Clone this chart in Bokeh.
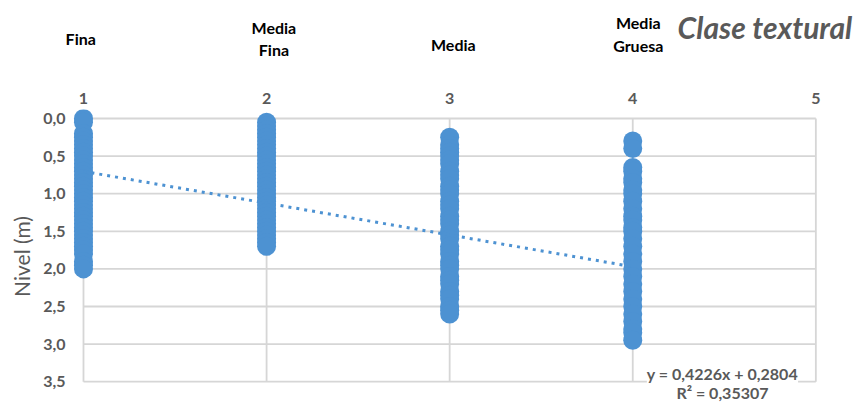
from bokeh.plotting import figure
from bokeh.layouts import column
from bokeh.models import Range1d, FixedTicker, Label
from bokeh.core.properties import value
from bokeh.embed import file_html
from bokeh.resources import INLINE

# Texture classes (x position) and their names
class_pos = [1, 2, 3, 4]
class_names = [["Fina"], ["Media", "Fina"], ["Media"], ["Media", "Gruesa"]]

# Water level (m) observed for each texture class
nivel_fina = [0.0, 0.05, 0.2, 0.25, 0.3, 0.35, 0.4, 0.45, 0.5, 0.55, 0.6, 0.65,
              0.7, 0.75, 0.8, 0.85, 0.9, 0.95, 1.0, 1.05, 1.1, 1.15, 1.2, 1.25,
              1.3, 1.35, 1.4, 1.45, 1.5, 1.55, 1.6, 1.65, 1.7, 1.75, 1.8, 1.9,
              1.95, 2.0]
nivel_media_fina = [0.05, 0.1, 0.15, 0.2, 0.25, 0.3, 0.35, 0.4, 0.45, 0.5, 0.55,
                    0.6, 0.65, 0.7, 0.75, 0.8, 0.85, 0.9, 0.95, 1.0, 1.05, 1.1,
                    1.15, 1.2, 1.25, 1.3, 1.35, 1.4, 1.45, 1.5, 1.55, 1.6, 1.65,
                    1.7]
nivel_media = [0.25, 0.35, 0.4, 0.45, 0.5, 0.55, 0.6, 0.7, 0.75, 0.8, 0.9, 0.95,
               1.0, 1.1, 1.15, 1.2, 1.3, 1.35, 1.4, 1.5, 1.55, 1.6, 1.7, 1.75,
               1.8, 1.9, 1.95, 2.0, 2.1, 2.15, 2.2, 2.3, 2.35, 2.4, 2.5, 2.55,
               2.6]
nivel_media_gruesa = [0.3, 0.4, 0.65, 0.7, 0.8, 0.85, 0.95, 1.0, 1.1, 1.2, 1.3,
                      1.35, 1.45, 1.5, 1.6, 1.7, 1.8, 1.9, 2.0, 2.1, 2.2, 2.3,
                      2.4, 2.5, 2.6, 2.7, 2.8, 2.85, 2.95]

# Linear trend fitted to the observations
slope = 0.4226
intercept = 0.2804
r_squared = 0.35307
trend_x = [1, 4]

x_ticks = [1, 2, 3, 4, 5]
y_ticks = [0.0, 0.5, 1.0, 1.5, 2.0, 2.5, 3.0, 3.5]
y_tick_labels = ["0,0", "0,5", "1,0", "1,5", "2,0", "2,5", "3,0", "3,5"]

BLUE = "#4d92d2"
GRID = "#d6d6d6"
GREY_TEXT = "#595959"
FONT = "Lato"

W = 853
HEADER_H = 85
CHART_H = 318
BORDER_L, BORDER_R = 72, 34
X_START, X_END = 0.94, 5.02

# ---- main chart -------------------------------------------------------------
p = figure(width=W, height=CHART_H, output_backend="svg", toolbar_location=None,
           x_range=Range1d(X_START, X_END), y_range=Range1d(3.79, -0.12),
           x_axis_location="above", min_border_left=BORDER_L,
           min_border_right=BORDER_R, min_border_top=24, min_border_bottom=0)
p.frame_align = False
p.outline_line_color = None
p.xgrid.visible = False
p.ygrid.visible = False

# Gridlines only span the 1..5 / 0..3.5 area
p.segment(x0=[x_ticks[0]] * len(y_ticks), x1=[x_ticks[-1]] * len(y_ticks),
          y0=y_ticks, y1=y_ticks, line_color=GRID, line_width=1.8)
p.segment(x0=x_ticks, x1=x_ticks, y0=[y_ticks[0]] * len(x_ticks),
          y1=[y_ticks[-1]] * len(x_ticks), line_color=GRID, line_width=1.8)

for xc, vals in zip(class_pos, [nivel_fina, nivel_media_fina, nivel_media,
                                nivel_media_gruesa]):
    p.scatter([xc] * len(vals), vals, size=19, fill_color=BLUE, line_color=None)

p.line(trend_x, [slope * x + intercept for x in trend_x], line_color=BLUE,
       line_width=3, line_dash="3 5")

p.xaxis.ticker = FixedTicker(ticks=x_ticks)
p.yaxis.ticker = FixedTicker(ticks=y_ticks)
p.yaxis.major_label_overrides = {t: s for t, s in zip(y_ticks, y_tick_labels)}
for ax in (p.xaxis[0], p.yaxis[0]):
    ax.axis_line_color = None
    ax.major_tick_line_color = None
    ax.minor_tick_line_color = None
    ax.major_label_text_font = FONT
    ax.major_label_text_font_style = "bold"
    ax.major_label_text_font_size = "16px"
    ax.major_label_text_color = GREY_TEXT
p.xaxis.major_label_standoff = 0
p.yaxis.major_label_standoff = 1
p.yaxis.axis_label = "Nivel (m)"
p.yaxis.axis_label_text_font = FONT
p.yaxis.axis_label_text_font_style = "normal"
p.yaxis.axis_label_text_font_size = "21px"
p.yaxis.axis_label_text_color = GREY_TEXT
p.yaxis.axis_label_standoff = 6

# Trend equation
eq = f"y = {slope:.4f}x + {intercept:.4f}".replace(".", ",")
r2 = f"R² = {r_squared:.5f}".replace(".", ",")
for txt, yy, bg in [(eq, 3.39, "white"), (r2, 3.65, None)]:
    p.add_layout(Label(x=4.49, y=yy, text=txt, text_align="center",
                       text_baseline="middle", text_font=FONT,
                       text_font_style="bold", text_font_size="16px",
                       text_color=GREY_TEXT, background_fill_color=bg))

# ---- header with class names, sharing the chart's horizontal scale --------
unit = (X_END - X_START) / (W - BORDER_L - BORDER_R)
h = figure(width=W, height=HEADER_H, output_backend="svg",
           toolbar_location=None,
           x_range=Range1d(X_START - BORDER_L * unit, X_END + BORDER_R * unit),
           y_range=Range1d(HEADER_H, 0), x_axis_location=None,
           y_axis_location=None, min_border=0, min_border_left=0,
           min_border_right=0, min_border_top=0, min_border_bottom=0)
h.frame_align = False
h.outline_line_color = None
h.xgrid.visible = False
h.ygrid.visible = False

line_y = {1: [38], 2: [27, 49], 3: [44], 4: [22, 45]}
line_dx = {1: -0.015, 2: 0.04, 3: 0.02, 4: 0.03}
tx, ty, tt = [], [], []
for xc, lines in zip(class_pos, class_names):
    for line, yy in zip(lines, line_y[xc]):
        tx.append(xc + line_dx[xc])
        ty.append(yy)
        tt.append(line)
h.text(tx, ty, text=tt, text_align="center", text_baseline="middle",
       text_font=value(FONT), text_font_style="bold", text_font_size="16px",
       text_color="black")

h.text([4.245], [26], text=["Clase textural"], text_align="left",
       text_baseline="middle", text_font=value(FONT),
       text_font_style="bold italic", text_font_size="30px", text_color=GREY_TEXT)

layout = column(h, p, spacing=0)
open("out.html", "w").write(file_html(layout, INLINE))
